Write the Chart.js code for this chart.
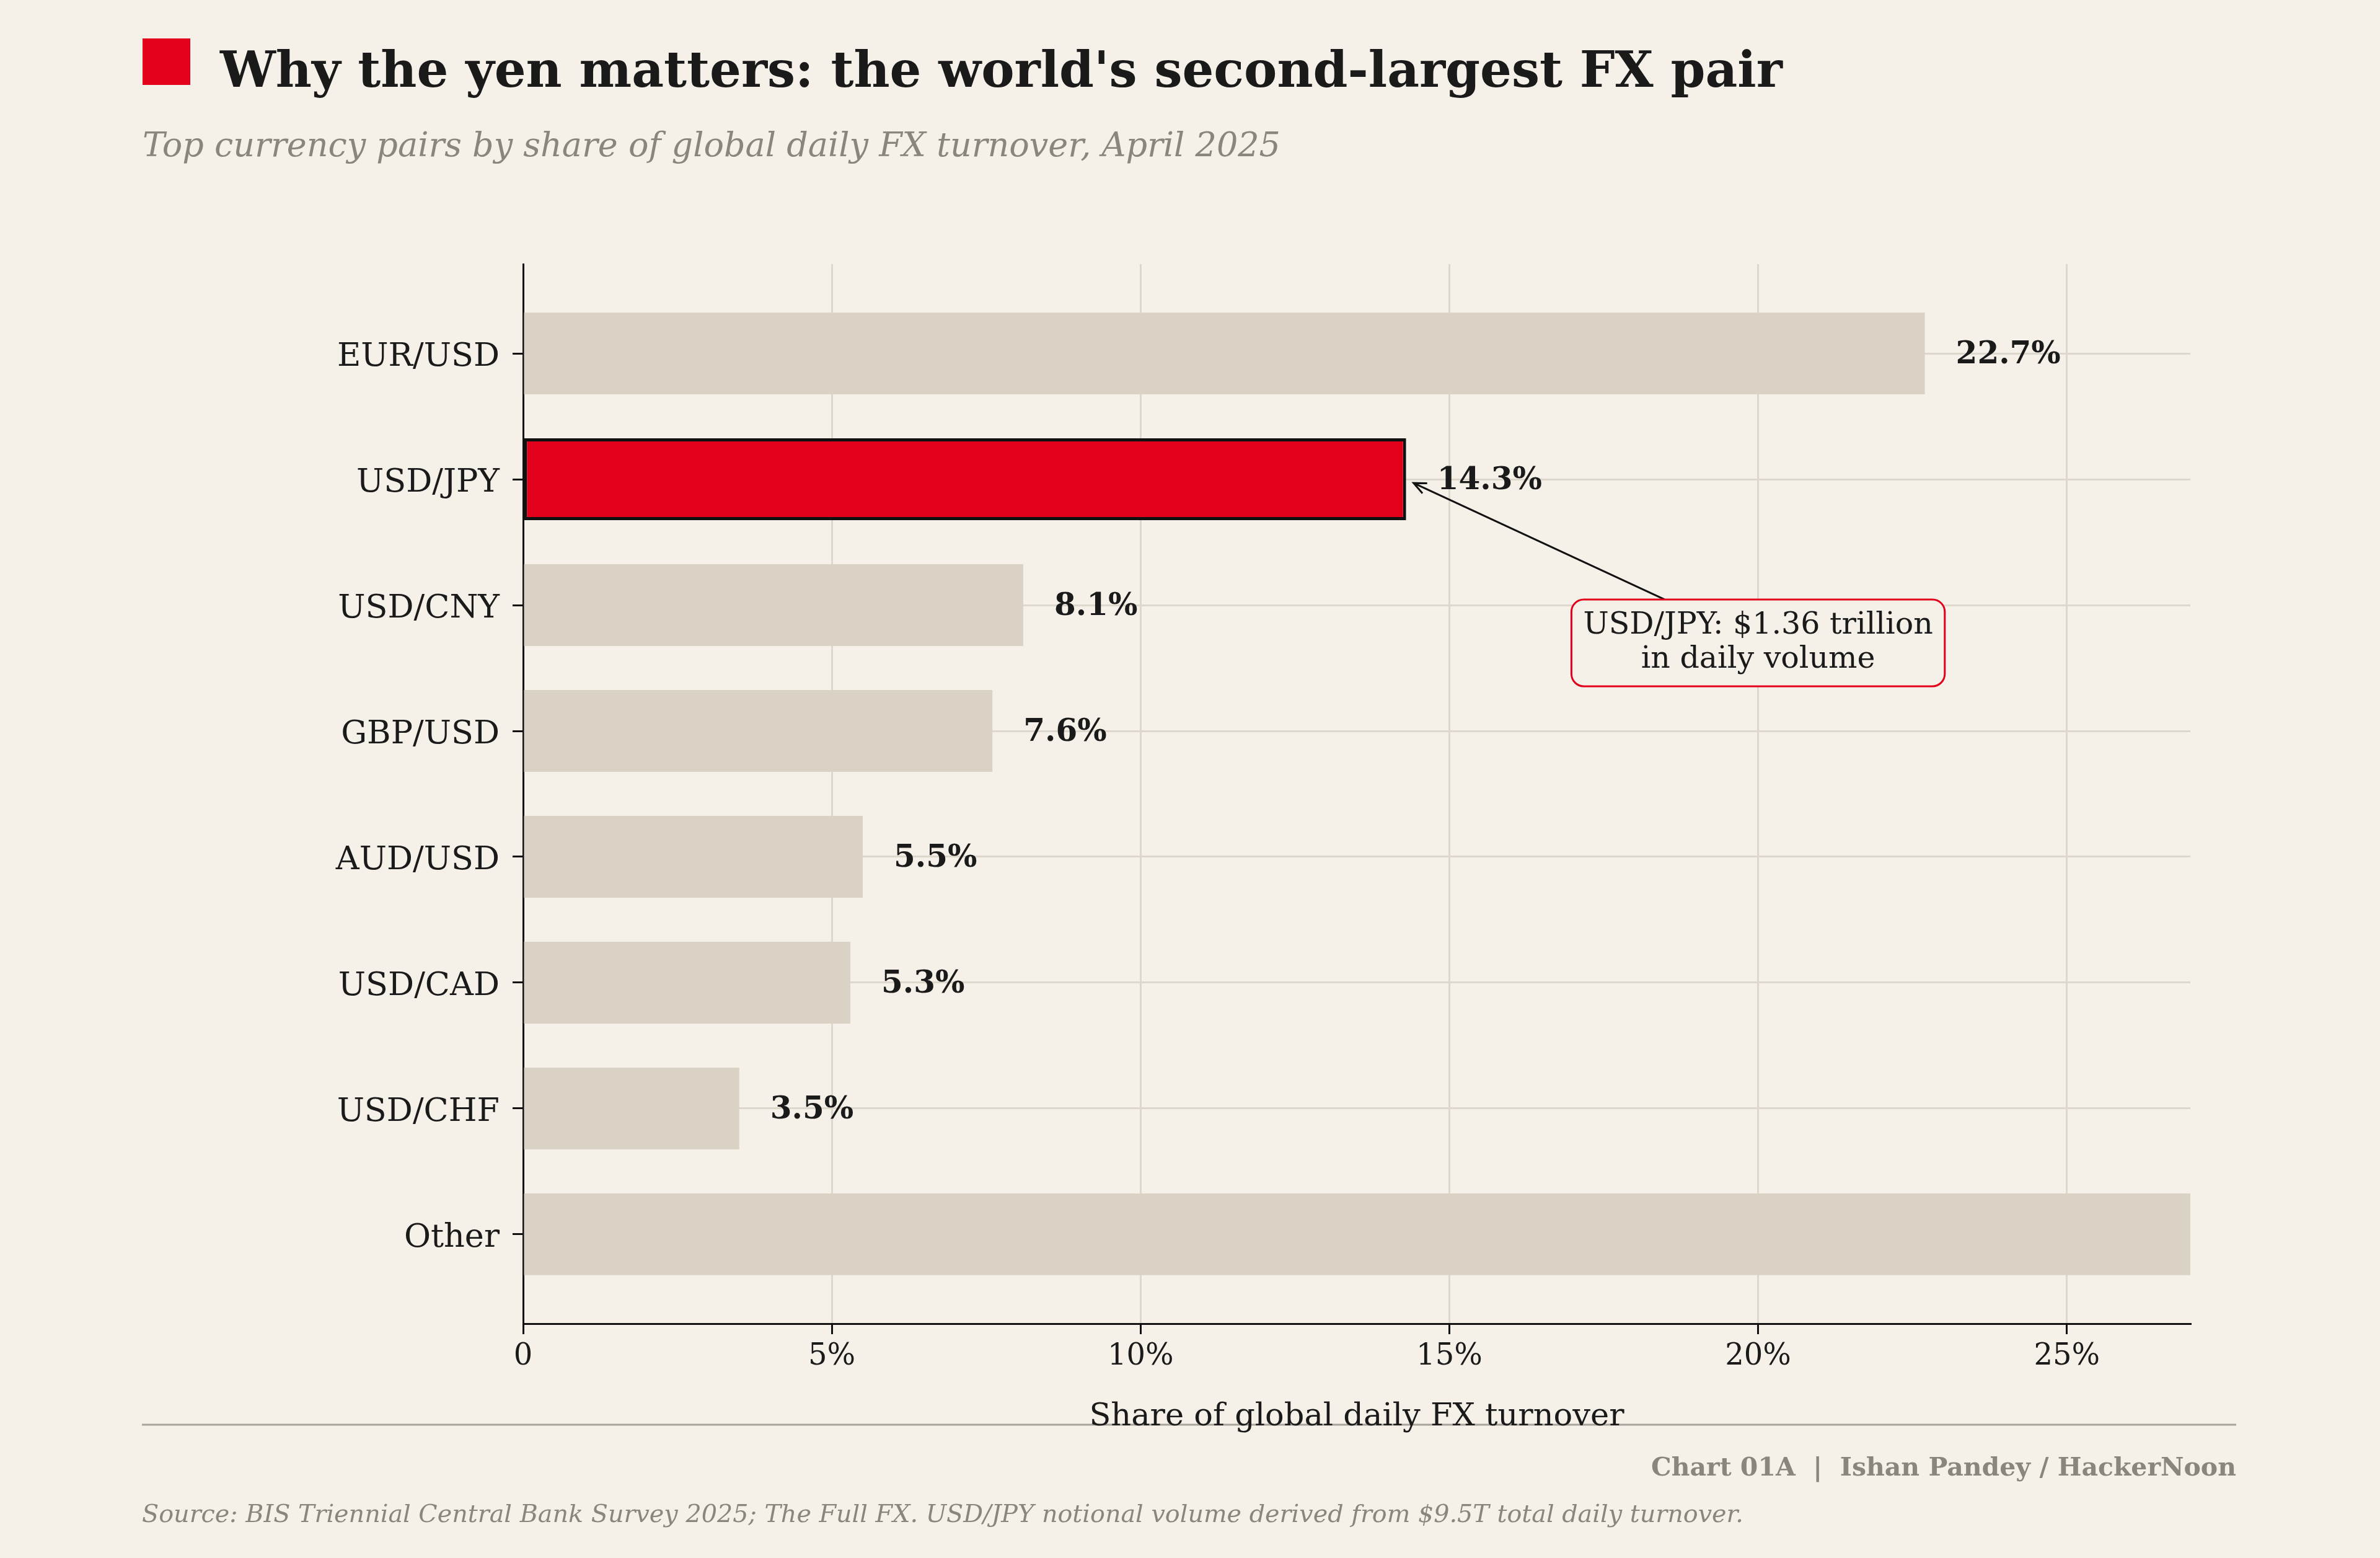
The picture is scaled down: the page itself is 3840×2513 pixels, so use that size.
<!DOCTYPE html>
<html>
<head>
<meta charset="utf-8">
<script src="https://cdn.jsdelivr.net/npm/chart.js@4.4.1/dist/chart.umd.min.js"></script>
<style>
  html, body { margin: 0; padding: 0; background: #f5f0e8; }
  canvas { display: block; }
</style>
</head>
<body>
<canvas id="fxChart" width="3840" height="2513"></canvas>
<script>
// currency pairs, top to bottom
const pairs = ['EUR/USD', 'USD/JPY', 'USD/CNY', 'GBP/USD', 'AUD/USD', 'USD/CAD', 'USD/CHF', 'Other'];
// share of global daily FX turnover, April 2025 (%); "Other" runs past the axis
const shares = [22.7, 14.3, 8.1, 7.6, 5.5, 5.3, 3.5, 33.0];
const xTicks = [0, 5, 10, 15, 20, 25];
const xTickLabels = ['0', '5%', '10%', '15%', '20%', '25%'];
const highlightPair = 'USD/JPY';

const title = "Why the yen matters: the world's second-largest FX pair";
const subtitle = 'Top currency pairs by share of global daily FX turnover, April 2025';
const xTitle = 'Share of global daily FX turnover';
const credit = 'Chart 01A  |  Ishan Pandey / HackerNoon';
const source = 'Source: BIS Triennial Central Bank Survey 2025; The Full FX. USD/JPY notional volume derived from $9.5T total daily turnover.';
const calloutLines = ['USD/JPY: $1.36 trillion', 'in daily volume'];

const SERIF = '"DejaVu Serif", serif';
const BG = '#f5f0e8';
const RED = '#e2001a';
const INK = '#1a1a1a';
const GREY = '#8a867c';

// background, header and footer
const frame = {
  id: 'frame',
  beforeDraw(chart) {
    const ctx = chart.ctx;
    ctx.save();
    ctx.fillStyle = BG;
    ctx.fillRect(0, 0, chart.width, chart.height);

    ctx.fillStyle = RED;
    ctx.fillRect(230, 62, 77, 75);

    ctx.textBaseline = 'alphabetic';
    ctx.fillStyle = INK;
    ctx.font = 'bold 80px ' + SERIF;
    ctx.fillText(title, 355, 140);

    ctx.fillStyle = GREY;
    ctx.font = 'italic 54px ' + SERIF;
    ctx.fillText(subtitle, 230, 252);

    ctx.strokeStyle = '#a8a49b';
    ctx.lineWidth = 3;
    ctx.beginPath();
    ctx.moveTo(229, 2298);
    ctx.lineTo(3608, 2298);
    ctx.stroke();

    ctx.textAlign = 'right';
    ctx.font = 'bold 41px ' + SERIF;
    ctx.fillText(credit, 3608, 2380);

    ctx.textAlign = 'left';
    ctx.font = 'italic 39.7px ' + SERIF;
    ctx.fillText(source, 229, 2455);
    ctx.restore();
  }
};

// value labels at the end of each bar (skipped when the bar runs off the axis)
const valueLabels = {
  id: 'valueLabels',
  afterDatasetsDraw(chart) {
    const ctx = chart.ctx;
    const xs = chart.scales.x;
    const meta = chart.getDatasetMeta(0);
    ctx.save();
    ctx.font = 'bold 50px ' + SERIF;
    ctx.fillStyle = INK;
    ctx.textBaseline = 'middle';
    meta.data.forEach((bar, i) => {
      if (shares[i] > xs.max) return;
      ctx.fillText(shares[i].toFixed(1) + '%', bar.x + 50, bar.y + 3);
    });
    ctx.restore();
  }
};

// boxed note with an arrow pointing at the highlighted bar
const callout = {
  id: 'callout',
  afterDatasetsDraw(chart) {
    const {ctx, scales: {x, y}} = chart;
    const i = pairs.indexOf(highlightPair);
    const tipX = x.getPixelForValue(shares[i] + 0.12);
    const tipY = y.getPixelForValue(i + 0.03);
    const cx = x.getPixelForValue(20.0);
    const cy = y.getPixelForValue(2.3);

    ctx.save();
    ctx.font = '49px ' + SERIF;
    const lh = 55;
    const w = Math.max(...calloutLines.map(t => ctx.measureText(t).width)) + 38;
    const h = lh * calloutLines.length + 30;
    const bx = cx - w / 2, by = cy - h / 2;

    // arrow starts where the centre->tip line leaves the box
    const dx = tipX - cx, dy = tipY - cy;
    const t = Math.min((w / 2) / Math.abs(dx), (h / 2) / Math.abs(dy));
    const sx = cx + dx * t, sy = cy + dy * t;
    ctx.strokeStyle = '#111';
    ctx.lineWidth = 3;
    ctx.beginPath();
    ctx.moveTo(sx, sy);
    ctx.lineTo(tipX, tipY);
    const ang = Math.atan2(sy - tipY, sx - tipX);
    const hl = 22, spread = 0.42;
    ctx.moveTo(tipX + hl * Math.cos(ang - spread), tipY + hl * Math.sin(ang - spread));
    ctx.lineTo(tipX, tipY);
    ctx.lineTo(tipX + hl * Math.cos(ang + spread), tipY + hl * Math.sin(ang + spread));
    ctx.stroke();

    ctx.beginPath();
    ctx.roundRect(bx, by, w, h, 20);
    ctx.fillStyle = BG;
    ctx.fill();
    ctx.strokeStyle = RED;
    ctx.lineWidth = 3;
    ctx.stroke();

    ctx.fillStyle = INK;
    ctx.textAlign = 'center';
    ctx.textBaseline = 'middle';
    calloutLines.forEach((line, k) => {
      ctx.fillText(line, cx, cy + (k - (calloutLines.length - 1) / 2) * lh);
    });
    ctx.restore();
  }
};

const gridStyle = {color: '#ddd7cc', lineWidth: 3, tickColor: '#111', tickLength: 17, tickWidth: 3, offset: false};

new Chart(document.getElementById('fxChart'), {
  type: 'bar',
  data: {
    datasets: [{
      data: pairs.map((p, i) => ({x: shares[i], y: i})),
      backgroundColor: pairs.map(p => p === highlightPair ? RED : '#d9d2c5'),
      borderColor: '#111',
      borderWidth: pairs.map(p => p === highlightPair ? 5 : 0),
      borderSkipped: false,
      barPercentage: 0.65,
      categoryPercentage: 1
    }]
  },
  options: {
    indexAxis: 'y',
    responsive: false,
    animation: false,
    layout: {padding: {top: 426, right: 306, bottom: 197, left: 0}},
    plugins: {legend: {display: false}, tooltip: {enabled: false}},
    scales: {
      x: {
        type: 'linear',
        min: 0,
        max: 27,
        afterFit: s => { s.height = 181; },
        afterBuildTicks: s => { s.ticks = xTicks.map(v => ({value: v})); },
        ticks: {
          callback: v => xTickLabels[xTicks.indexOf(v)],
          font: {family: 'DejaVu Serif', size: 48},
          color: INK,
          padding: 8,
          maxRotation: 0
        },
        grid: gridStyle,
        border: {color: '#111', width: 3},
        title: {display: true, text: xTitle, font: {family: 'DejaVu Serif', size: 51}, color: INK, padding: 0}
      },
      y: {
        type: 'linear',
        offset: false,
        min: -0.71,
        max: 7.71,
        reverse: true,
        afterFit: s => { s.width = 844; },
        afterBuildTicks: s => { s.ticks = pairs.map((p, i) => ({value: i})); },
        ticks: {
          callback: v => pairs[v],
          font: {family: 'DejaVu Serif', size: 52.5},
          color: INK,
          padding: 21,
          labelOffset: 6
        },
        grid: gridStyle,
        border: {color: '#111', width: 3}
      }
    }
  },
  plugins: [frame, valueLabels, callout]
});
</script>
</body>
</html>
